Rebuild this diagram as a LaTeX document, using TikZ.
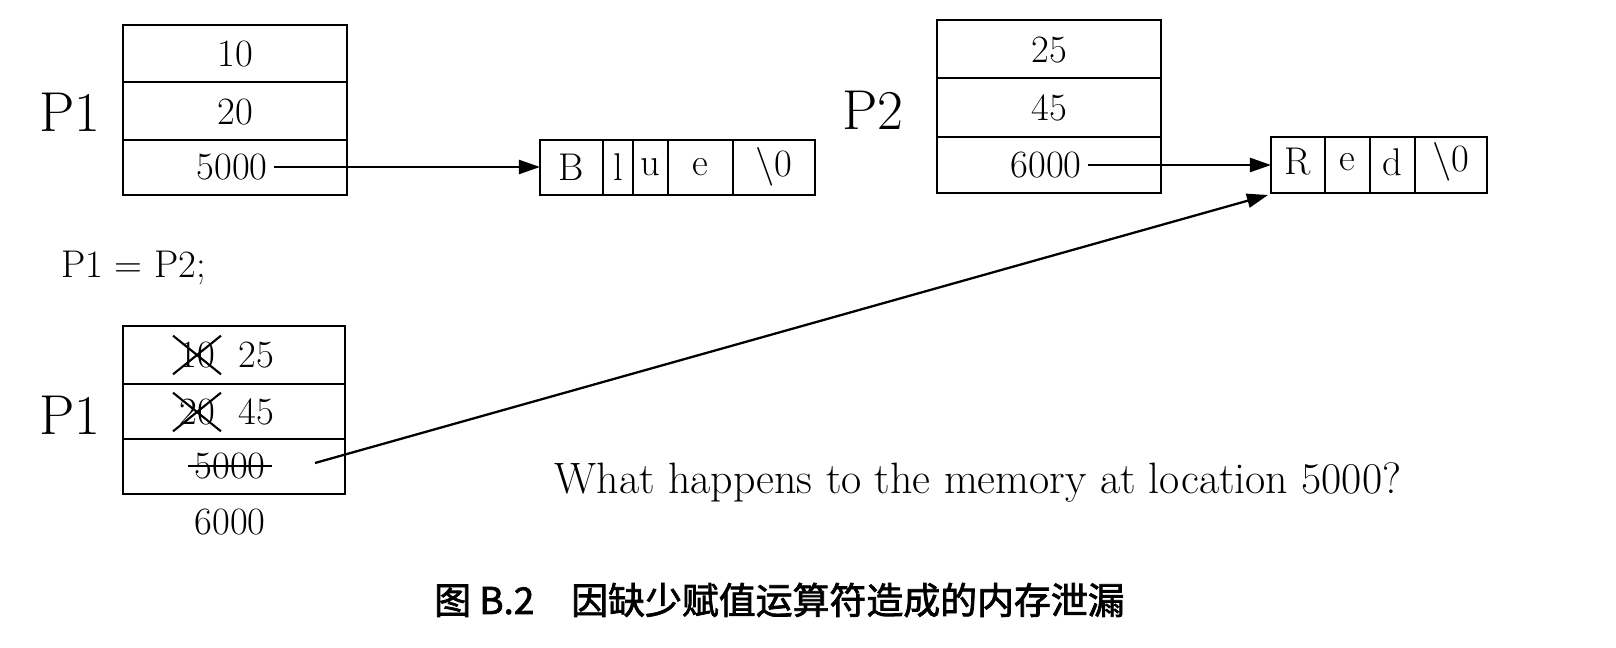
\documentclass[tikz,border=0pt]{standalone}
\usepackage{fontspec}
\newfontfamily\cjk{Noto Sans CJK SC}[FakeBold=2]
\usetikzlibrary{arrows.meta}

\tikzset{
  num/.style={font=\fontsize{22}{24}\selectfont},
  chr/.style={font=\fontsize{22}{24}\selectfont},
  big/.style={font=\fontsize{32}{34}\selectfont},
  ptr/.style={-{Triangle[length=12pt,width=8pt]}, line width=1.3pt}
}

\begin{document}
\begin{tikzpicture}[x=0.02cm,y=-0.02cm]
\useasboundingbox (0,0) rectangle (1616,648);

% first P1
\draw[line width=1.4pt] (123,25) rectangle (347,195);
\draw[line width=1.4pt] (123,82) -- (347,82) (123,140) -- (347,140);
\node[big] (p1a) at (70,112) {P1};
\node[num] (a10) at (235,54) {10};
\node[num] (a20) at (235,112) {20};
\node[num] (a50) at (232,167) {5000};

% Blue string
\draw[line width=1.4pt] (540,140) rectangle (815,195);
\foreach \x in {603,633,668,733} \draw[line width=1.4pt] (\x,140) -- (\x,195);
\node[chr] (b1) at (571,167) {B};
\node[chr] (b2) at (618,167) {l};
\node[chr] (b3) at (650,167) {u};
\node[chr] (b4) at (700,167) {e};
\node[chr] (b5) at (774,167) {\textbackslash 0};
\coordinate (blue) at (540,167);

% P2
\draw[line width=1.4pt] (937,20) rectangle (1161,193);
\draw[line width=1.4pt] (937,78) -- (1161,78) (937,137) -- (1161,137);
\node[big] (p2) at (873,110) {P2};
\node[num] (c25) at (1049,50) {25};
\node[num] (c45) at (1049,108) {45};
\node[num] (c60) at (1046,165) {6000};

% Red string
\draw[line width=1.4pt] (1271,137) rectangle (1487,193);
\foreach \x in {1325,1370,1415} \draw[line width=1.4pt] (\x,137) -- (\x,193);
\node[chr] (r1) at (1298,162) {R};
\node[chr] (r2) at (1347,162) {e};
\node[chr] (r3) at (1392,162) {d};
\node[chr] (r4) at (1451,162) {\textbackslash 0};
\coordinate (red) at (1271,165);
\coordinate (redc) at (1268,195);

\node[font=\fontsize{22}{24}\selectfont, anchor=west] (asg) at (55,268) {P1 = P2;};

% second P1
\draw[line width=1.4pt] (123,326) rectangle (345,494);
\draw[line width=1.4pt] (123,384) -- (345,384) (123,439) -- (345,439);
\node[big] (p1b) at (70,415) {P1};
\node[num] (d10) at (197,355) {10};
\node[num] (d25) at (256,355) {25};
\node[num] (d20) at (197,412) {20};
\node[num] (d45) at (256,412) {45};
\node[num] (d50) at (230,466) {5000};
\node[num] (d60) at (230,522) {6000};
\draw[line width=1.2pt] (d10.south west) -- (d10.north east) (d10.north west) -- (d10.south east);
\draw[line width=1.2pt] (d20.south west) -- (d20.north east) (d20.north west) -- (d20.south east);
\draw[line width=1.2pt] (d50.west) -- (d50.east);
\coordinate (d50r) at (315,463);

% pointers
\draw[ptr] (a50.east) -- (blue);
\draw[ptr] (c60.east) -- (red);
\draw[ptr] (d50r) -- (redc);

\node[font=\fontsize{25}{28}\selectfont] (q) at (978,483) {What happens to the memory at location 5000?};
\node[font=\cjk\fontsize{21}{24}\selectfont, anchor=west] (cap) at (428,600) {图 B.2\quad 因缺少赋值运算符造成的内存泄漏};
\end{tikzpicture}
\end{document}
